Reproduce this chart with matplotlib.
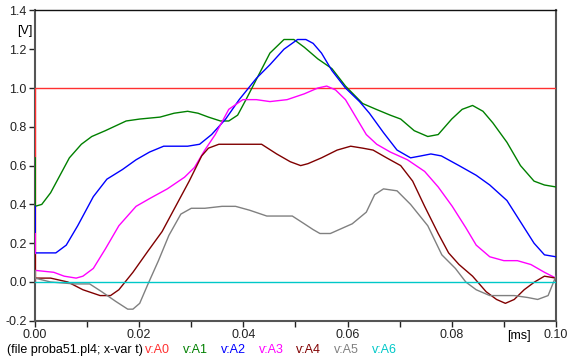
import matplotlib
matplotlib.use("Agg")
import matplotlib.pyplot as plt
import numpy as np

plt.rcParams['font.family'] = ['Liberation Sans', 'DejaVu Sans']

# t in ms, values in V
t_a1 = [0, 0, 0, 0.0013, 0.003, 0.0046, 0.0066, 0.0089, 0.0109, 0.0135, 0.0175, 0.0201, 0.024,
        0.0267, 0.0293, 0.0313, 0.0333, 0.0356, 0.0372, 0.0389, 0.0405, 0.0428, 0.0451, 0.0478,
        0.0497, 0.0517, 0.0543, 0.057, 0.0596, 0.0629, 0.0655, 0.0682, 0.0702, 0.0728, 0.0754,
        0.0774, 0.08, 0.082, 0.084, 0.086, 0.0879, 0.0906, 0.0932, 0.0958, 0.0978, 0.1]
a1 = [0, 0.64, 0.39, 0.40, 0.46, 0.54, 0.64, 0.71, 0.75, 0.78, 0.83, 0.84, 0.85, 0.87, 0.88, 0.87,
      0.85, 0.83, 0.83, 0.86, 0.94, 1.06, 1.18, 1.25, 1.25, 1.21, 1.15, 1.10, 1.01, 0.92, 0.89,
      0.86, 0.84, 0.78, 0.75, 0.76, 0.84, 0.89, 0.91, 0.88, 0.82, 0.72, 0.60, 0.52, 0.50, 0.49]

t_a2 = [0, 0, 0, 0.004, 0.006, 0.0082, 0.0112, 0.0138, 0.0168, 0.0194, 0.022, 0.0247, 0.0293, 0.0316,
        0.0339, 0.0366, 0.0392, 0.0425, 0.0451, 0.0478, 0.0504, 0.052, 0.0534, 0.055, 0.057, 0.0596,
        0.0623, 0.0642, 0.0669, 0.0695, 0.0721, 0.0741, 0.076, 0.078, 0.0814, 0.0847, 0.0873,
        0.0906, 0.0932, 0.0958, 0.0978, 0.1]
a2 = [0, 0.39, 0.15, 0.15, 0.19, 0.29, 0.44, 0.53, 0.58, 0.63, 0.67, 0.70, 0.70, 0.71, 0.76, 0.84,
      0.94, 1.05, 1.12, 1.20, 1.25, 1.25, 1.23, 1.18, 1.09, 1.00, 0.93, 0.87, 0.77, 0.68, 0.64,
      0.65, 0.66, 0.65, 0.60, 0.55, 0.50, 0.42, 0.31, 0.20, 0.14, 0.13]

t_a3 = [0, 0, 0, 0.0036, 0.0056, 0.0079, 0.0092, 0.0112, 0.0135, 0.0161, 0.0194, 0.022, 0.0254,
        0.0287, 0.0306, 0.0326, 0.0346, 0.0372, 0.0399, 0.0425, 0.0451, 0.0484, 0.0517, 0.0543,
        0.056, 0.0577, 0.0596, 0.0616, 0.0636, 0.0656, 0.0682, 0.0715, 0.0748, 0.0774, 0.0801,
        0.0827, 0.0847, 0.0873, 0.09, 0.0926, 0.0952, 0.0978, 0.1]
a3 = [0, 0.25, 0.06, 0.05, 0.03, 0.02, 0.03, 0.07, 0.17, 0.29, 0.39, 0.43, 0.48, 0.54, 0.59, 0.68,
      0.76, 0.89, 0.94, 0.94, 0.93, 0.94, 0.97, 1.00, 1.01, 0.99, 0.94, 0.85, 0.76, 0.71, 0.67,
      0.63, 0.57, 0.49, 0.39, 0.28, 0.19, 0.13, 0.11, 0.11, 0.09, 0.05, 0.02]

t_a4 = [0, 0, 0, 0.003, 0.0063, 0.0092, 0.0125, 0.0145, 0.0161, 0.0188, 0.0217, 0.0244, 0.027,
        0.0296, 0.032, 0.0333, 0.0353, 0.0386, 0.0412, 0.0435, 0.0464, 0.049, 0.051, 0.0524,
        0.055, 0.058, 0.0606, 0.0629, 0.0649, 0.0675, 0.0702, 0.0725, 0.0748, 0.0774, 0.0794,
        0.0814, 0.084, 0.0866, 0.0886, 0.0903, 0.092, 0.0939, 0.0959, 0.0978, 0.1]
a4 = [0, 0.14, 0.02, 0.02, 0.00, -0.04, -0.07, -0.07, -0.04, 0.05, 0.16, 0.26, 0.39, 0.52, 0.65,
      0.69, 0.71, 0.71, 0.71, 0.71, 0.66, 0.62, 0.60, 0.61, 0.64, 0.68, 0.70, 0.69, 0.68, 0.64,
      0.60, 0.52, 0.39, 0.25, 0.15, 0.09, 0.03, -0.05, -0.09, -0.11, -0.09, -0.04, 0.00, 0.03, 0.02]

t_a5 = [0, 0, 0, 0.003, 0.0076, 0.0105, 0.0128, 0.0155, 0.0178, 0.0188, 0.0201, 0.0217, 0.0237,
        0.0257, 0.028, 0.03, 0.0326, 0.0359, 0.0385, 0.0412, 0.0445, 0.0471, 0.0494, 0.0517,
        0.0534, 0.0547, 0.0567, 0.0609, 0.0636, 0.0652, 0.0669, 0.0695, 0.0721, 0.0754, 0.0781,
        0.0807, 0.0827, 0.0847, 0.0873, 0.0893, 0.092, 0.0946, 0.0965, 0.0985, 0.1]
a5 = [0, 0.06, 0.02, 0.00, -0.01, -0.01, -0.05, -0.10, -0.14, -0.14, -0.11, -0.01, 0.11, 0.24,
      0.35, 0.38, 0.38, 0.39, 0.39, 0.37, 0.34, 0.34, 0.34, 0.30, 0.27, 0.25, 0.25, 0.30, 0.36,
      0.45, 0.48, 0.47, 0.40, 0.29, 0.14, 0.07, 0.00, -0.04, -0.07, -0.07, -0.07, -0.08, -0.09,
      -0.07, 0.03]

t_a0 = [0, 0, 0.1]
a0 = [0, 1.0, 1.0]
t_a6 = [0, 0.1]
a6 = [0, 0]

names = ['v:A0', 'v:A1', 'v:A2', 'v:A3', 'v:A4', 'v:A5', 'v:A6']
colors = ['#ff3030', '#008000', '#0000ff', '#ff00ff', '#800000', '#808080', '#00c8c8']

fig = plt.figure(figsize=(5.69, 3.64), dpi=100)
ax = fig.add_axes([0.0615, 0.1187, 0.9155, 0.8527])

series = [(t_a0, a0), (t_a1, a1), (t_a2, a2), (t_a3, a3), (t_a4, a4), (t_a5, a5), (t_a6, a6)]
for (t, v), c in zip(series, colors):
    ax.plot(t, v, color=c, lw=1.0, zorder=3)

ax.set_xlim(0, 0.1)
ax.set_ylim(-0.2, 1.4)
ax.set_xticks(np.arange(0, 0.1001, 0.01))
ax.set_xticklabels(['0.00', '', '0.02', '', '0.04', '', '0.06', '', '0.08', '', '0.10'])
ax.set_yticks(np.arange(-0.2, 1.401, 0.2))
ax.set_yticklabels(['-0.2', '0.0', '0.2', '0.4', '0.6', '0.8', '1.0', '1.2', '1.4'])
ax.tick_params(direction='out', length=4.5, width=1, labelsize=9, colors='#222222', pad=1.5)
for s in ax.spines.values():
    s.set_color('#555555')
    s.set_linewidth(1.5)
ax.spines['top'].set_color('#111111')
ax.spines['top'].set_linewidth(1.0)

fig.text(17 / 569, 1 - 31 / 364, '[V]', fontsize=9, ha='left', va='center')
fig.text(507 / 569, 1 - 336 / 364, '[ms]', fontsize=9, ha='left', va='center')

fig.text(7 / 569, 1 - 350 / 364, '(file proba51.pl4; x-var t)', fontsize=9, ha='left', va='center')
xs = [145, 183, 221, 259, 296, 334, 372]
for x, n, c in zip(xs, names, colors):
    fig.text(x / 569, 1 - 350 / 364, n, fontsize=9, ha='left', va='center', color=c)

fig.savefig('out.png', dpi=100)
